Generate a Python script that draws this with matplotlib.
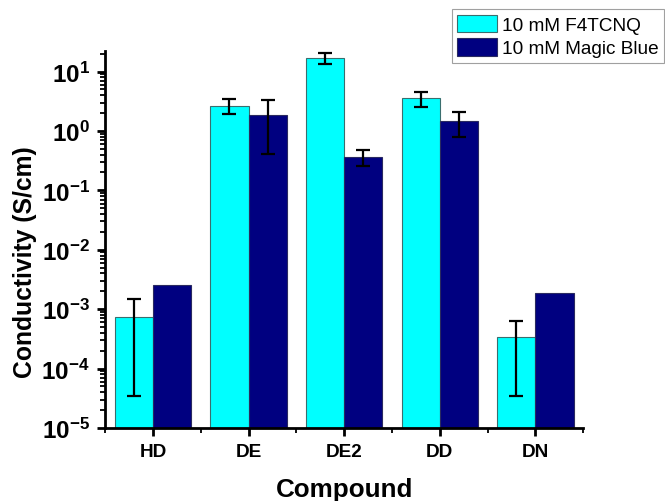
import numpy as np
import matplotlib
matplotlib.use("Agg")
import matplotlib.pyplot as plt
from matplotlib.ticker import LogLocator, FixedLocator, NullFormatter, FuncFormatter

plt.rcParams['font.family'] = ['Liberation Sans', 'DejaVu Sans']
plt.rcParams['mathtext.fontset'] = 'custom'
plt.rcParams['mathtext.rm'] = 'Liberation Sans:bold'
plt.rcParams['mathtext.bf'] = 'Liberation Sans:bold'
plt.rcParams['mathtext.default'] = 'bf'

compounds = ['HD', 'DE', 'DE2', 'DD', 'DN']

# conductivity in S/cm, with lower / upper ends of the error bars
f4tcnq = [7.5e-4, 2.67, 17.0, 3.56, 3.4e-4]
f4tcnq_lo = [3.4e-5, 1.93, 13.6, 2.56, 3.4e-5]
f4tcnq_hi = [1.48e-3, 3.46, 20.7, 4.6, 6.4e-4]

magic_blue = [2.6e-3, 1.86, 0.37, 1.46, 1.87e-3]
magic_blue_lo = [np.nan, 0.41, 0.26, 0.80, np.nan]
magic_blue_hi = [np.nan, 3.33, 0.48, 2.1, np.nan]

x = np.arange(len(compounds))
w = 0.4

fig = plt.figure(figsize=(6.65, 5.02), dpi=100)
ax = fig.add_axes([0.158, 0.1454, 0.719, 0.7506])

ax.bar(x - w / 2, f4tcnq, w, color='#00ffff', edgecolor='#3a6e6e', linewidth=0.8,
       label='10 mM F4TCNQ', zorder=2)
ax.bar(x + w / 2, magic_blue, w, color='#000080', edgecolor='#2a2a60', linewidth=0.8,
       label='10 mM Magic Blue', zorder=2)

def draw_err(xs, vals, lo, hi):
    vals = np.array(vals)
    err = np.array([vals - np.array(lo), np.array(hi) - vals])
    ok = ~np.isnan(err[0])
    ax.errorbar(xs[ok], vals[ok], yerr=err[:, ok], fmt='none', ecolor='black',
                elinewidth=1.6, capsize=5, capthick=1.6, zorder=3)

draw_err(x - w / 2, f4tcnq, f4tcnq_lo, f4tcnq_hi)
draw_err(x + w / 2, magic_blue, magic_blue_lo, magic_blue_hi)

ax.set_yscale('log')
ax.set_ylim(1e-5, 22)
ax.set_xlim(-0.5, 4.5)

ax.yaxis.set_major_locator(LogLocator(base=10, numticks=12))
ax.yaxis.set_major_formatter(FuncFormatter(lambda v, p: r'$10^{%d}$' % round(np.log10(v))))
ax.yaxis.set_minor_locator(LogLocator(base=10, subs=np.arange(2, 10), numticks=12))
ax.yaxis.set_minor_formatter(NullFormatter())

ax.set_xticks(x)
ax.set_xticklabels(compounds, fontsize=13.7, fontweight='bold')
ax.xaxis.set_minor_locator(FixedLocator(np.arange(-0.5, 5, 1.0)))

for s in ['top', 'right']:
    ax.spines[s].set_visible(False)
for s in ['left', 'bottom']:
    ax.spines[s].set_linewidth(2)

ax.tick_params(axis='both', which='major', direction='out', length=6, width=2)
ax.tick_params(axis='both', which='minor', direction='out', length=3.5, width=1.3)
ax.tick_params(axis='y', which='major', labelsize=17.5, pad=5)
ax.tick_params(axis='x', which='major', pad=5)

ax.set_xlabel('Compound', fontsize=18.7, fontweight='bold', labelpad=12)
fig.text(0.038, 0.478, 'Conductivity (S/cm)', rotation=90, ha='center', va='center',
         fontsize=17.8, fontweight='bold')

leg = fig.legend(loc='upper right', bbox_to_anchor=(0.999, 0.98), fontsize=13.7,
                 frameon=True, fancybox=False, edgecolor='#888888', borderpad=0.3,
                 handlelength=2.1, handleheight=1.05, labelspacing=0.2,
                 handletextpad=0.25, borderaxespad=0)
leg.get_frame().set_linewidth(0.8)

fig.savefig('out.png', dpi=100)
